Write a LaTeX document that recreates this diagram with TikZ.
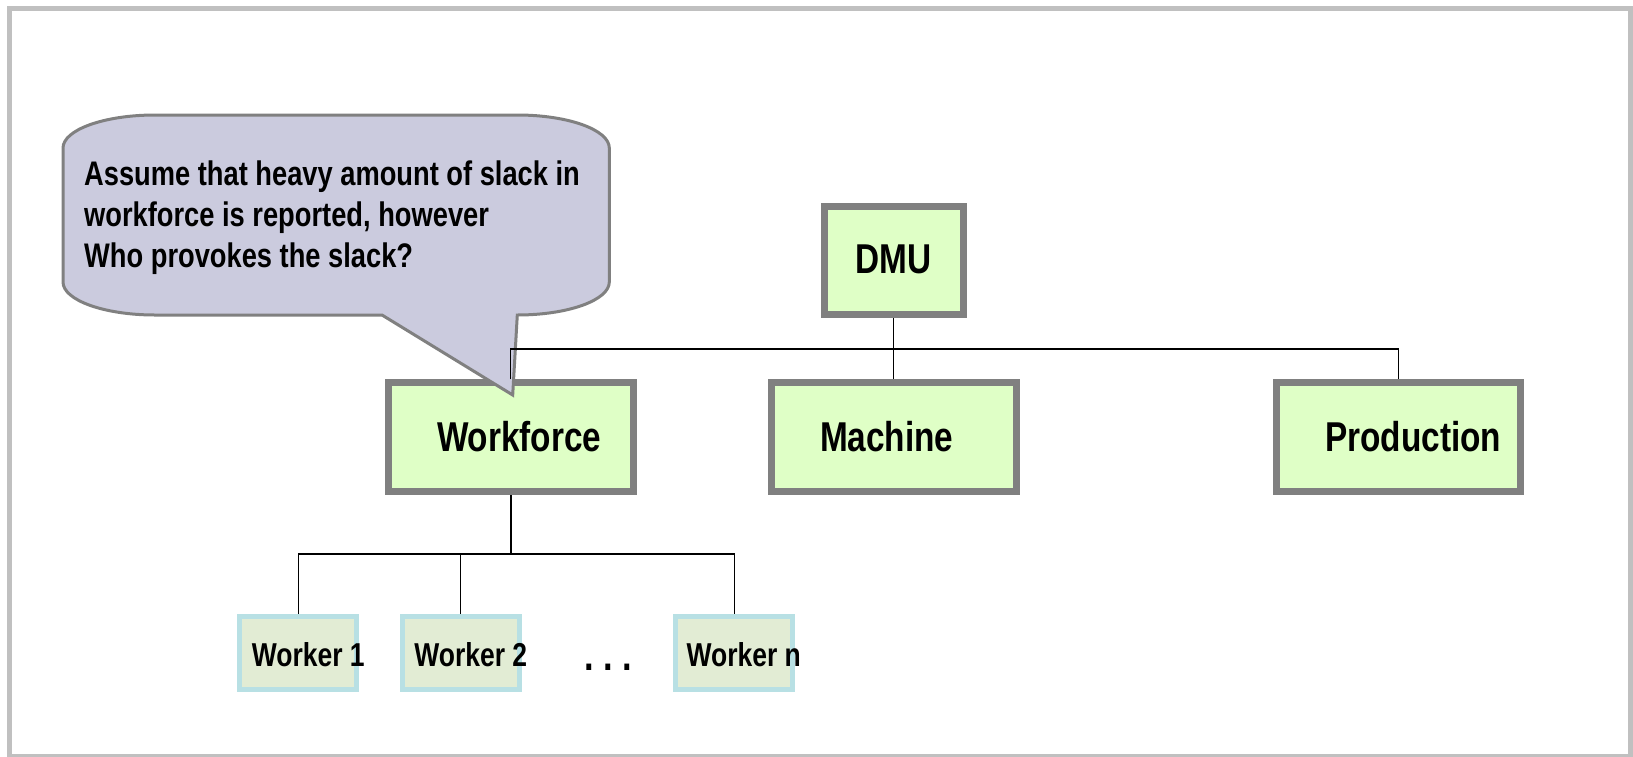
\documentclass[tikz,border=0pt]{standalone}
\usepackage{fontspec}
\setmainfont{Liberation Sans}[FakeStretch=0.8]
\definecolor{boxgreen}{RGB}{223,255,198}
\definecolor{boxgray}{RGB}{128,128,128}
\definecolor{wfill}{RGB}{226,236,212}
\definecolor{wborder}{RGB}{184,224,228}
\definecolor{callfill}{RGB}{203,203,222}
\definecolor{framegray}{RGB}{192,192,192}
\begin{document}
\begin{tikzpicture}[x=1pt,y=-1pt,
  bigbox/.style={draw=boxgray, line width=7pt, fill=boxgreen, inner sep=0pt,
    minimum width=244.5pt, minimum height=108.7pt},
  wbox/.style={draw=wborder, line width=5pt, fill=wfill, inner sep=0pt,
    minimum width=117pt, minimum height=72.7pt},
  callshape/.style={draw=boxgray, line width=3pt, fill=callfill, line join=miter},
  conn/.style={draw=black, line width=1.3pt},
  connthick/.style={draw=black, line width=2.5pt},
  biglabel/.style={inner sep=0pt, anchor=base, font=\fontsize{41.7pt}{50pt}\selectfont\bfseries},
  wlabel/.style={inner sep=0pt, anchor=base, font=\fontsize{33.1pt}{40pt}\selectfont\bfseries},
  dotlabel/.style={inner sep=0pt, anchor=base, font=\fontsize{43pt}{50pt}\selectfont\bfseries\frenchspacing},
  calltext/.style={inner sep=0pt, anchor=base west, font=\fontsize{34.1pt}{41pt}\selectfont\bfseries\frenchspacing}
]
\useasboundingbox (0,0) rectangle (1633,756);
% outer frame
\draw[framegray, line width=5pt] (9.5,8.5) rectangle (1630,756.5);

% boxes
\node[bigbox, minimum width=138.7pt, minimum height=108pt] (dmu) at (893.8,260.8) {};
\node[bigbox] (wf) at (510.8,437.2) {};
\node[bigbox] (mach) at (893.8,437.2) {};
\node[bigbox] (prod) at (1398.5,437.2) {};
\node[wbox] (w1) at (298.3,652.9) {};
\node[wbox] (w2) at (460.8,652.9) {};
\node[wbox] (wn) at (734.2,652.9) {};

% callout
\coordinate (cTip) at (512.7,395);
\draw[callshape] (63,148) .. controls (63,129.8) and (104.2,115) .. (155,115)
  -- (517.3,115) .. controls (568.1,115) and (609.3,129.8) .. (609.3,148)
  -- (609.3,282) .. controls (609.3,300.2) and (568.1,315) .. (517.3,315)
  -- (cTip) -- (382,315) -- (155,315)
  .. controls (104.2,315) and (63,300.2) .. (63,282) -- cycle;

% connectors
\coordinate (bus1) at (893.8,349);
\coordinate (bus2) at (511.7,554);
\draw[conn] (dmu.south) -- (mach.north);
\draw[conn] (wf.north) -- (wf.north |- bus1) -- (prod.north |- bus1) -- (prod.north);
\draw[connthick] (wf.south) -- (wf.south |- bus2) -- (w2.north |- bus2);
\draw[conn] (w1.north) -- (w1.north |- bus2) -- (wn.north |- bus2) -- (wn.north);
\draw[conn] (w2.north) -- (w2.north |- bus2);

% labels
\node[biglabel] (dmut) at (893.3,273.3) {DMU};
\node[biglabel] (wft) at (519.2,451.7) {Workforce};
\node[biglabel] (macht) at (886.8,451.7) {Machine};
\node[biglabel] (prodt) at (1413.3,451.7) {Production};
\node[wlabel] (w1t) at (308.3,666.7) {Worker 1};
\node[wlabel] (w2t) at (470.8,666.7) {Worker 2};
\node[wlabel] (wnt) at (743.8,666.7) {Worker n};
\node[dotlabel] (dots) at (608.3,670.7) {. . .};
\node[calltext] (c1) at (84,185) {Assume that heavy amount of slack in};
\node[calltext] (c2) at (84,226) {workforce is reported, however};
\node[calltext] (c3) at (84,267) {Who provokes the slack?};
\end{tikzpicture}
\end{document}
